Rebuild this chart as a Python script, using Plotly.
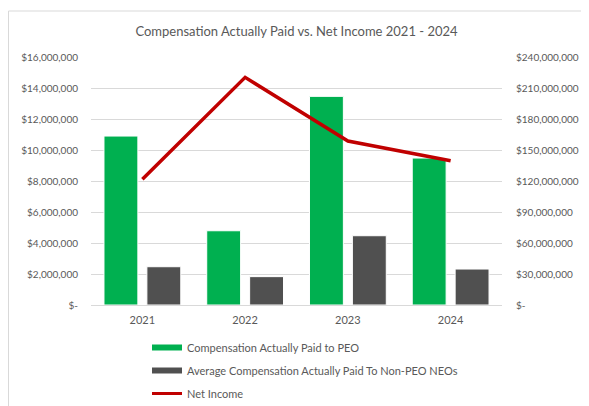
import plotly.graph_objects as go

# Data
years = ["2021", "2022", "2023", "2024"]
cap_peo = [10_900_000, 4_790_000, 13_460_000, 9_480_000]
cap_non_peo = [2_470_000, 1_830_000, 4_470_000, 2_320_000]
net_income = [121_600_000, 220_300_000, 158_700_000, 139_600_000]

left_tickvals = [0, 2_000_000, 4_000_000, 6_000_000, 8_000_000,
                 10_000_000, 12_000_000, 14_000_000, 16_000_000]
left_ticktext = ["$-", "$2,000,000", "$4,000,000", "$6,000,000", "$8,000,000",
                 "$10,000,000", "$12,000,000", "$14,000,000", "$16,000,000"]
right_tickvals = [0, 30_000_000, 60_000_000, 90_000_000, 120_000_000,
                  150_000_000, 180_000_000, 210_000_000, 240_000_000]
right_ticktext = ["$-", "$30,000,000", "$60,000,000", "$90,000,000", "$120,000,000",
                  "$150,000,000", "$180,000,000", "$210,000,000", "$240,000,000"]

# Style
_GREEN = "#00B050"
_GRAY = "#505050"
_RED = "#C00000"
_TEXT = "#595959"
_GRID = "#D9D9D9"
_FONT = "Lato, sans-serif"

# the page body has an 8px margin, so the figure is 8px smaller than the window
W, H = 581, 398
PLOT_L, PLOT_R, PLOT_T, PLOT_B = 83, 494, 49, 297
PW, PH = PLOT_R - PLOT_L, PLOT_B - PLOT_T

fig = go.Figure()

fig.add_trace(go.Bar(
    x=years, y=cap_peo,
    name="Compensation Actually Paid to PEO",
    marker=dict(color=_GREEN, line=dict(color="white", width=1)),
    showlegend=False,
))
fig.add_trace(go.Bar(
    x=years, y=cap_non_peo,
    name="Average Compensation Actually Paid To Non-PEO NEOs",
    marker=dict(color=_GRAY, line=dict(color="white", width=1)),
    showlegend=False,
))
fig.add_trace(go.Scatter(
    x=years, y=net_income,
    name="Net Income",
    mode="lines",
    line=dict(color=_RED, width=3.5),
    yaxis="y2",
    showlegend=False,
))

# legend-only entries so the bar keys show as wide strips like the original
for name, color, width, grp in [
    ("Compensation Actually Paid to PEO", _GREEN, 6, "a"),
    ("Average Compensation Actually Paid To Non-PEO NEOs", _GRAY, 6, "b"),
    ("Net Income", _RED, 3, "c"),
]:
    fig.add_trace(go.Scatter(
        x=[None], y=[None], mode="lines", name=name,
        line=dict(color=color, width=width), legendgroup=grp,
    ))

# light chart-area border (top and left edges visible in the reference)
top_y = (PLOT_B - 3) / PH
left_x = (0.5 - PLOT_L) / PW
fig.add_shape(type="line", xref="paper", yref="paper",
              x0=left_x, x1=1.3, y0=top_y, y1=top_y,
              line=dict(color=_GRID, width=1))
fig.add_shape(type="line", xref="paper", yref="paper",
              x0=left_x, x1=left_x, y0=top_y, y1=-0.5,
              line=dict(color=_GRID, width=1))

fig.update_layout(
    width=W, height=H,
    margin=dict(l=PLOT_L, r=W - PLOT_R, t=PLOT_T, b=H - PLOT_B, autoexpand=False),
    paper_bgcolor="white",
    plot_bgcolor="white",
    font=dict(family=_FONT, size=10, color=_TEXT),
    title=dict(
        text="Compensation Actually Paid vs. Net Income 2021 - 2024",
        x=0.5, xref="paper", xanchor="center",
        y=1 - 23 / H, yref="container", yanchor="middle",
        font=dict(family=_FONT, size=13, color=_TEXT),
    ),
    barmode="group",
    bargap=0.165,
    bargroupgap=0.21,
    showlegend=True,
    legend=dict(
        orientation="v",
        x=(139 - PLOT_L) / PW, xanchor="left",
        y=1 - 325 / H, yref="container", yanchor="top",
        font=dict(family=_FONT, size=11, color=_TEXT),
        tracegroupgap=4,
        bgcolor="rgba(0,0,0,0)",
    ),
    xaxis=dict(
        showgrid=False,
        showline=True, linecolor=_GRID, linewidth=1,
        ticks="", ticklabelstandoff=5,
        tickfont=dict(size=11, color=_TEXT),
        automargin=False,
    ),
    yaxis=dict(
        range=[0, 16_000_000],
        tickvals=left_tickvals, ticktext=left_ticktext,
        showgrid=True, gridcolor=_GRID, gridwidth=1,
        zeroline=False, showline=False,
        ticklabelstandoff=12,
        tickfont=dict(size=10, color=_TEXT),
        automargin=False,
    ),
    yaxis2=dict(
        range=[0, 240_000_000],
        tickvals=right_tickvals, ticktext=right_ticktext,
        overlaying="y", side="right",
        showgrid=False, zeroline=False, showline=False,
        ticklabelstandoff=13,
        tickfont=dict(size=10, color=_TEXT),
        automargin=False,
    ),
)

fig.write_html("out.html")
